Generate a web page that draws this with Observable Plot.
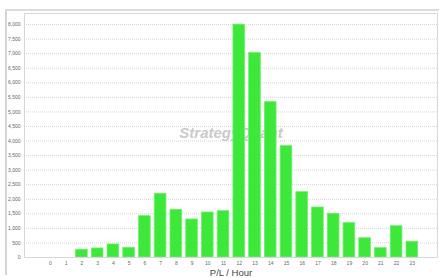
<!DOCTYPE html>
<html><head><meta charset="utf-8">
<script src="https://cdn.jsdelivr.net/npm/d3@7"></script>
<script src="https://cdn.jsdelivr.net/npm/@observablehq/plot@0.6"></script>
<style>
body{margin:0;background:#fff;font-family:"Liberation Sans",Arial,sans-serif;}
#wrap{position:relative;width:439px;height:278px;overflow:hidden;}
#lbar{position:absolute;left:5px;top:9px;width:2px;height:266px;background:#d4d4d4;}
#tbar{position:absolute;left:5px;top:9px;width:434px;height:2px;background:#dcdcdc;}
</style></head>
<body><div id="wrap"><div id="lbar"></div><div id="tbar"></div></div>
<script>
const hours = [0,1,2,3,4,5,6,7,8,9,10,11,12,13,14,15,16,17,18,19,20,21,22,23];
const pl = [0,0,265,310,447,333,1420,2189,1640,1306,1546,1591,7997,7020,5337,3825,2244,1718,1500,1180,663,320,1075,540];
const yTicks = [0,500,1000,1500,2000,2500,3000,3500,4000,4500,5000,5500,6000,6500,7000,7500,8000];
const xLabel = "P/L / Hour";
const watermark = "StrategyQuant";

const data = hours.map((h,i)=>({h, v: pl[i]}));
const chart = Plot.plot({
  width: 439, height: 278,
  marginLeft: 24, marginRight: 2, marginTop: 13, marginBottom: 21,
  style: {fontFamily: "Liberation Sans, Arial, sans-serif", background: "transparent"},
  x: {domain: [-1.65, 24.6], ticks: hours, tickFormat: d=>String(d), label: null},
  y: {domain: [0, 8380], ticks: yTicks, label: null},
  marks: [
    Plot.ruleY(yTicks.filter(t=>t>0), {stroke: "#d6d6d6", strokeDasharray: "1,1", strokeWidth: 1}),
    Plot.text([watermark], {frameAnchor: "middle", dx: 0, dy: -2, text: d=>d, fontSize: 15, fontWeight: "bold", fontStyle: "italic", fill: "#cacaca"}),
    Plot.rectY(data.filter(d=>d.v>0), {x1: d=>d.h-0.37, x2: d=>d.h+0.37, y1: 0, y2: "v", fill: "#3de83b", stroke: "#6ef06a", strokeWidth: 0.8}),
    Plot.axisY({ticks: yTicks, tickFormat: d3.format(","), tickSize: 0, tickPadding: 4, fontSize: 5, fill: "#666", label: null}),
    Plot.axisX({ticks: hours, tickSize: 0, tickPadding: 4, fontSize: 5, fill: "#666", label: null}),
    Plot.ruleY([0], {stroke: "#bbb"}),
    Plot.frame({stroke: "#d8d8d8", strokeWidth: 1}),
    Plot.text([xLabel], {frameAnchor: "bottom", lineAnchor: "middle", dy: 15, text: d=>d, fontSize: 9.5, fill: "#444"})
  ]
});
chart.style.position = "absolute";
chart.style.left = "0px";
chart.style.top = "0px";
document.getElementById("wrap").appendChild(chart);
</script>
</body></html>
